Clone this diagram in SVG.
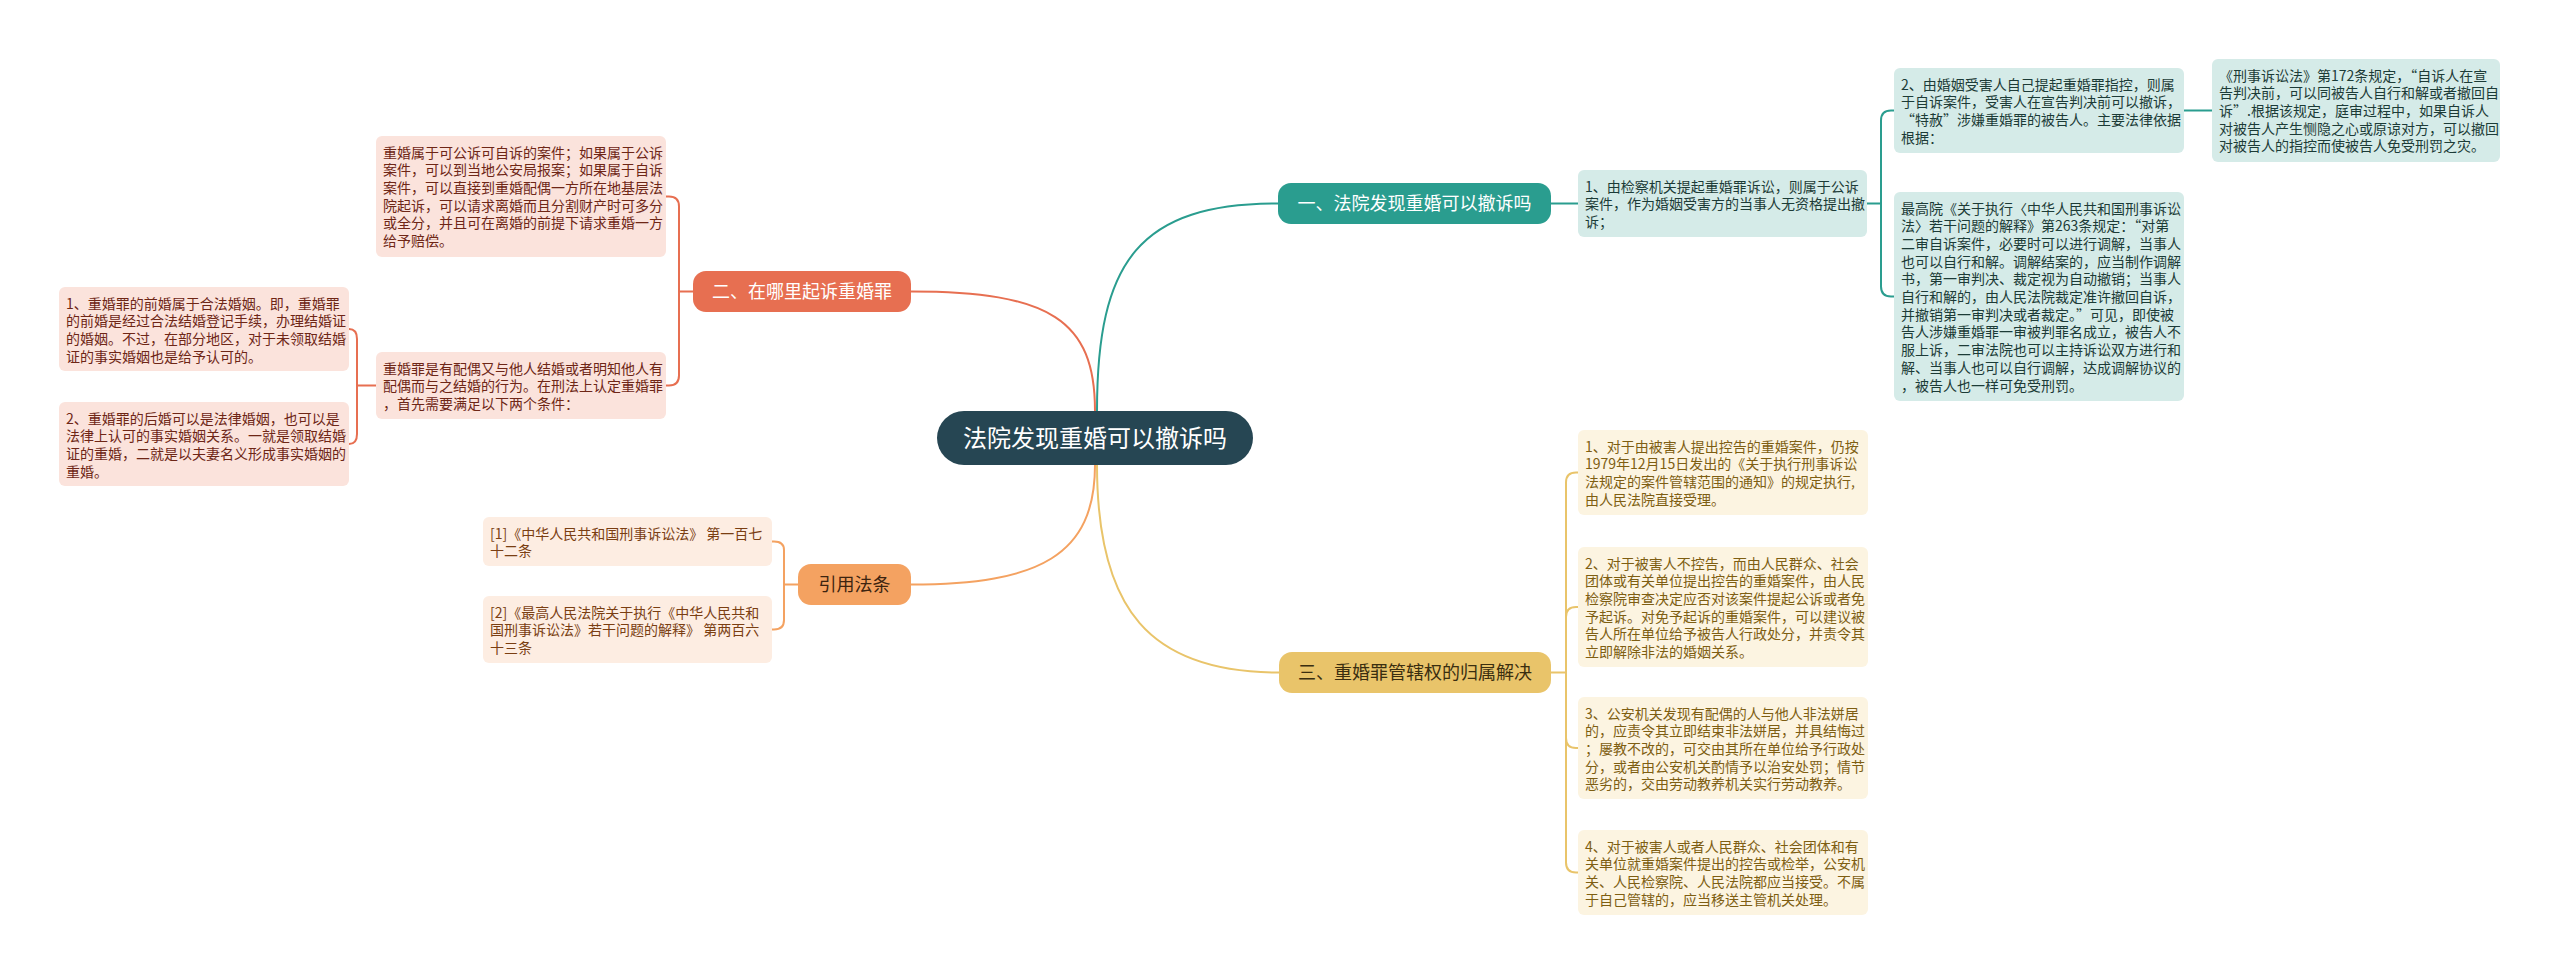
<svg xmlns="http://www.w3.org/2000/svg" width="2560" height="973" viewBox="0 0 2560 973">
<style>
text{font-family:"Noto Sans CJK SC","Noto Sans",sans-serif;}
.leaf{font-size:14px;}
.br{font-size:18px;}
.c-red{fill:#fbe3dc;} .t-red{fill:#6e2616;}
.c-org{fill:#fdede2;} .t-org{fill:#7a3e12;}
.c-teal{fill:#d5ebe8;} .t-teal{fill:#1c3b37;}
.c-yel{fill:#fcf4e1;} .t-yel{fill:#7e5e12;}
.ln{fill:none;stroke-width:2;stroke-linecap:round;}
.lr{stroke:#e76f51;} .lo{stroke:#f4a261;} .lt{stroke:#2a9d8f;} .ly{stroke:#e9c46a;}
</style>
<rect width="2560" height="973" fill="#ffffff"/>

<g id="connectors">
  <path class="ln lr" d="M1095,411 C1095,320 1050,291.5 911,291.5"/>
  <path class="ln lt" d="M1097,411 C1097,260 1140,203.5 1278,203.5"/>
  <path class="ln lo" d="M1095,465 C1095,555 1040,584.5 911,584.5"/>
  <path class="ln ly" d="M1097,465 C1097,610 1150,672.5 1279,672.5"/>

  <path class="ln lr" d="M693,291.5 H679 V206.5 Q679,196.5 669,196.5 H666"/>
  <path class="ln lr" d="M679,291.5 V375.5 Q679,385.5 669,385.5 H666"/>
  <path class="ln lr" d="M376,385.5 H357 V339 Q357,329 349,329"/>
  <path class="ln lr" d="M357,385.5 V434 Q357,444 349,444"/>

  <path class="ln lo" d="M798,584.5 H784 V550 Q784,541.5 774,541.5 H772"/>
  <path class="ln lo" d="M784,584.5 V620 Q784,629.5 774,629.5 H772"/>

  <path class="ln lt" d="M1551,203.5 H1578"/>
  <path class="ln lt" d="M1867,203.5 H1881 V120.5 Q1881,110.5 1891,110.5 H1894"/>
  <path class="ln lt" d="M1881,203.5 V286.5 Q1881,296.5 1891,296.5 H1894"/>
  <path class="ln lt" d="M2184,110.5 H2212"/>

  <path class="ln ly" d="M1551,672.5 H1566 V482.5 Q1566,472.5 1576,472.5 H1578"/>
  <path class="ln ly" d="M1566,672.5 V617 Q1566,607 1576,607 H1578"/>
  <path class="ln ly" d="M1566,672.5 V738 Q1566,748 1576,748 H1578"/>
  <path class="ln ly" d="M1566,672.5 V862.5 Q1566,872.5 1576,872.5 H1578"/>
</g>

<g id="root">
  <rect x="937" y="411" width="316" height="54" rx="27" fill="#264653"/>
  <text x="1095" y="446.5" font-size="24" fill="#ffffff" text-anchor="middle">法院发现重婚可以撤诉吗</text>
</g>

<g id="branch1">
  <rect x="1278" y="183" width="273" height="41" rx="13" fill="#2a9d8f"/>
  <text class="br" x="1414.5" y="210" fill="#ffffff" text-anchor="middle">一、法院发现重婚可以撤诉吗</text>
</g>
<g id="branch2">
  <rect x="693" y="271" width="218" height="41" rx="13" fill="#e76f51"/>
  <text class="br" x="802" y="298" fill="#ffffff" text-anchor="middle">二、在哪里起诉重婚罪</text>
</g>
<g id="branch3">
  <rect x="1279" y="652" width="272" height="41" rx="13" fill="#e9c46a"/>
  <text class="br" x="1415" y="679" fill="#3a2e10" text-anchor="middle">三、重婚罪管辖权的归属解决</text>
</g>
<g id="branch4">
  <rect x="798" y="564" width="113" height="41" rx="13" fill="#f4a261"/>
  <text class="br" x="854.5" y="591" fill="#3d2410" text-anchor="middle">引用法条</text>
</g>

<g id="c1">
  <rect class="c-red" x="376" y="136" width="290" height="121" rx="6"/>
  <text class="leaf t-red" x="383" y="157.5">
    <tspan x="383">重婚属于可公诉可自诉的案件；如果属于公诉</tspan>
    <tspan x="383" dy="17.7">案件，可以到当地公安局报案；如果属于自诉</tspan>
    <tspan x="383" dy="17.7">案件，可以直接到重婚配偶一方所在地基层法</tspan>
    <tspan x="383" dy="17.7">院起诉，可以请求离婚而且分割财产时可多分</tspan>
    <tspan x="383" dy="17.7">或全分，并且可在离婚的前提下请求重婚一方</tspan>
    <tspan x="383" dy="17.7">给予赔偿。</tspan>
  </text>
</g>
<g id="c2">
  <rect class="c-red" x="376" y="352" width="290" height="67" rx="6"/>
  <text class="leaf t-red" x="383" y="373.5">
    <tspan x="383">重婚罪是有配偶又与他人结婚或者明知他人有</tspan>
    <tspan x="383" dy="17.7">配偶而与之结婚的行为。在刑法上认定重婚罪</tspan>
    <tspan x="383" dy="17.7">，首先需要满足以下两个条件：</tspan>
  </text>
</g>
<g id="c3">
  <rect class="c-red" x="59" y="287" width="290" height="84" rx="6"/>
  <text class="leaf t-red" x="66" y="308.5">
    <tspan x="66">1、重婚罪的前婚属于合法婚姻。即，重婚罪</tspan>
    <tspan x="66" dy="17.7">的前婚是经过合法结婚登记手续，办理结婚证</tspan>
    <tspan x="66" dy="17.7">的婚姻。不过，在部分地区，对于未领取结婚</tspan>
    <tspan x="66" dy="17.7">证的事实婚姻也是给予认可的。</tspan>
  </text>
</g>
<g id="c4">
  <rect class="c-red" x="59" y="402" width="290" height="84" rx="6"/>
  <text class="leaf t-red" x="66" y="423.5">
    <tspan x="66">2、重婚罪的后婚可以是法律婚姻，也可以是</tspan>
    <tspan x="66" dy="17.7">法律上认可的事实婚姻关系。一就是领取结婚</tspan>
    <tspan x="66" dy="17.7">证的重婚，二就是以夫妻名义形成事实婚姻的</tspan>
    <tspan x="66" dy="17.7">重婚。</tspan>
  </text>
</g>

<g id="o1">
  <rect class="c-org" x="483" y="517" width="289" height="49" rx="6"/>
  <text class="leaf t-org" x="490" y="538.5">
    <tspan x="490">[1]《中华人民共和国刑事诉讼法》 第一百七</tspan>
    <tspan x="490" dy="17.7">十二条</tspan>
  </text>
</g>
<g id="o2">
  <rect class="c-org" x="483" y="596" width="289" height="67" rx="6"/>
  <text class="leaf t-org" x="490" y="617.5">
    <tspan x="490">[2]《最高人民法院关于执行《中华人民共和</tspan>
    <tspan x="490" dy="17.7">国刑事诉讼法》若干问题的解释》 第两百六</tspan>
    <tspan x="490" dy="17.7">十三条</tspan>
  </text>
</g>

<g id="t1">
  <rect class="c-teal" x="1578" y="170" width="289" height="67" rx="6"/>
  <text class="leaf t-teal" x="1585" y="191.5">
    <tspan x="1585">1、由检察机关提起重婚罪诉讼，则属于公诉</tspan>
    <tspan x="1585" dy="17.7">案件，作为婚姻受害方的当事人无资格提出撤</tspan>
    <tspan x="1585" dy="17.7">诉；</tspan>
  </text>
</g>
<g id="t2">
  <rect class="c-teal" x="1894" y="68" width="290" height="85" rx="6"/>
  <text class="leaf t-teal" x="1901" y="89.5">
    <tspan x="1901">2、由婚姻受害人自己提起重婚罪指控，则属</tspan>
    <tspan x="1901" dy="17.7">于自诉案件，受害人在宣告判决前可以撤诉，</tspan>
    <tspan x="1901" dy="17.7">“特赦”涉嫌重婚罪的被告人。主要法律依据</tspan>
    <tspan x="1901" dy="17.7">根据：</tspan>
  </text>
</g>
<g id="t3">
  <rect class="c-teal" x="1894" y="192" width="290" height="209" rx="6"/>
  <text class="leaf t-teal" x="1901" y="213.5">
    <tspan x="1901">最高院《关于执行〈中华人民共和国刑事诉讼</tspan>
    <tspan x="1901" dy="17.7">法〉若干问题的解释》第263条规定：“对第</tspan>
    <tspan x="1901" dy="17.7">二审自诉案件，必要时可以进行调解，当事人</tspan>
    <tspan x="1901" dy="17.7">也可以自行和解。调解结案的，应当制作调解</tspan>
    <tspan x="1901" dy="17.7">书，第一审判决、裁定视为自动撤销；当事人</tspan>
    <tspan x="1901" dy="17.7">自行和解的，由人民法院裁定准许撤回自诉，</tspan>
    <tspan x="1901" dy="17.7">并撤销第一审判决或者裁定。”可见，即使被</tspan>
    <tspan x="1901" dy="17.7">告人涉嫌重婚罪一审被判罪名成立，被告人不</tspan>
    <tspan x="1901" dy="17.7">服上诉，二审法院也可以主持诉讼双方进行和</tspan>
    <tspan x="1901" dy="17.7">解、当事人也可以自行调解，达成调解协议的</tspan>
    <tspan x="1901" dy="17.7">，被告人也一样可免受刑罚。</tspan>
  </text>
</g>
<g id="t4">
  <rect class="c-teal" x="2212" y="59" width="288" height="103" rx="6"/>
  <text class="leaf t-teal" x="2219" y="80.5">
    <tspan x="2219">《刑事诉讼法》第172条规定，“自诉人在宣</tspan>
    <tspan x="2219" dy="17.7">告判决前，可以同被告人自行和解或者撤回自</tspan>
    <tspan x="2219" dy="17.7">诉”.根据该规定，庭审过程中，如果自诉人</tspan>
    <tspan x="2219" dy="17.7">对被告人产生恻隐之心或原谅对方，可以撤回</tspan>
    <tspan x="2219" dy="17.7">对被告人的指控而使被告人免受刑罚之灾。</tspan>
  </text>
</g>

<g id="y1">
  <rect class="c-yel" x="1578" y="430" width="290" height="85" rx="6"/>
  <text class="leaf t-yel" x="1585" y="451.5">
    <tspan x="1585">1、对于由被害人提出控告的重婚案件，仍按</tspan>
    <tspan x="1585" dy="17.7">1979年12月15日发出的《关于执行刑事诉讼</tspan>
    <tspan x="1585" dy="17.7">法规定的案件管辖范围的通知》的规定执行,</tspan>
    <tspan x="1585" dy="17.7">由人民法院直接受理。</tspan>
  </text>
</g>
<g id="y2">
  <rect class="c-yel" x="1578" y="547" width="290" height="120" rx="6"/>
  <text class="leaf t-yel" x="1585" y="568.5">
    <tspan x="1585">2、对于被害人不控告，而由人民群众、社会</tspan>
    <tspan x="1585" dy="17.7">团体或有关单位提出控告的重婚案件，由人民</tspan>
    <tspan x="1585" dy="17.7">检察院审查决定应否对该案件提起公诉或者免</tspan>
    <tspan x="1585" dy="17.7">予起诉。对免予起诉的重婚案件，可以建议被</tspan>
    <tspan x="1585" dy="17.7">告人所在单位给予被告人行政处分，并责令其</tspan>
    <tspan x="1585" dy="17.7">立即解除非法的婚姻关系。</tspan>
  </text>
</g>
<g id="y3">
  <rect class="c-yel" x="1578" y="697" width="290" height="102" rx="6"/>
  <text class="leaf t-yel" x="1585" y="718.5">
    <tspan x="1585">3、公安机关发现有配偶的人与他人非法姘居</tspan>
    <tspan x="1585" dy="17.7">的，应责令其立即结束非法姘居，并具结悔过</tspan>
    <tspan x="1585" dy="17.7">；屡教不改的，可交由其所在单位给予行政处</tspan>
    <tspan x="1585" dy="17.7">分，或者由公安机关酌情予以治安处罚；情节</tspan>
    <tspan x="1585" dy="17.7">恶劣的，交由劳动教养机关实行劳动教养。</tspan>
  </text>
</g>
<g id="y4">
  <rect class="c-yel" x="1578" y="830" width="290" height="85" rx="6"/>
  <text class="leaf t-yel" x="1585" y="851.5">
    <tspan x="1585">4、对于被害人或者人民群众、社会团体和有</tspan>
    <tspan x="1585" dy="17.7">关单位就重婚案件提出的控告或检举，公安机</tspan>
    <tspan x="1585" dy="17.7">关、人民检察院、人民法院都应当接受。不属</tspan>
    <tspan x="1585" dy="17.7">于自己管辖的，应当移送主管机关处理。</tspan>
  </text>
</g>
</svg>
